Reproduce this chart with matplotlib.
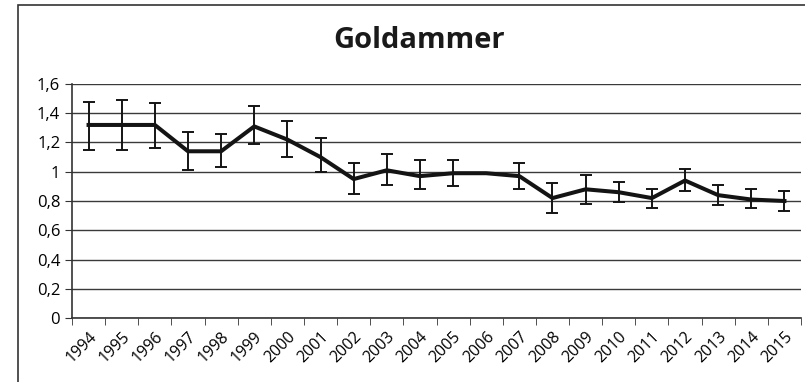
import numpy as np
import matplotlib.pyplot as plt
from matplotlib.patches import Rectangle
from matplotlib.ticker import FuncFormatter

# Daten
jahre = [str(j) for j in range(1994, 2016)]
werte = [1.32, 1.32, 1.32, 1.14, 1.14, 1.31, 1.22, 1.10, 0.95, 1.01, 0.97,
         0.99, 0.99, 0.97, 0.82, 0.88, 0.86, 0.82, 0.94, 0.84, 0.81, 0.80]
unten = [1.15, 1.15, 1.16, 1.01, 1.03, 1.19, 1.10, 1.00, 0.85, 0.91, 0.88,
         0.90, 0.99, 0.88, 0.72, 0.78, 0.79, 0.75, 0.87, 0.77, 0.75, 0.73]
oben = [1.48, 1.49, 1.47, 1.27, 1.26, 1.45, 1.35, 1.23, 1.06, 1.12, 1.08,
        1.08, 0.99, 1.06, 0.92, 0.98, 0.93, 0.88, 1.02, 0.91, 0.88, 0.87]
titel = "Goldammer"

plt.rcParams['font.family'] = ['Open Sans', 'DejaVu Sans']

fig = plt.figure(figsize=(8.05, 3.82), dpi=100)
fig.patches.append(Rectangle((18 / 805, -0.1), 1.2, 1 - 5 / 382 + 0.1,
                             transform=fig.transFigure, fill=False,
                             edgecolor='#333333', linewidth=1.2))
ax = fig.add_axes([72 / 805, 64 / 382, 729 / 805, 234 / 382])

x = np.arange(len(jahre))
w = np.array(werte)
fehler = [w - np.array(unten), np.array(oben) - w]
ax.errorbar(x, w, yerr=fehler, color='#141414', linewidth=2.9,
            elinewidth=1.4, capsize=4, capthick=1.4, zorder=3)

ax.set_xlim(-0.5, len(jahre) - 0.5)
ax.set_ylim(0, 1.6)
ax.set_yticks(np.arange(0, 1.61, 0.2))
ax.yaxis.set_major_formatter(FuncFormatter(
    lambda v, p: ('%g' % round(v, 1)).replace('.', ',')))
ax.grid(axis='y', color='#3a3a3a', linewidth=1.0)
ax.set_axisbelow(True)

ax.set_xticks(x)
ax.set_xticklabels(jahre, rotation=45, ha='right', rotation_mode='anchor')
ax.set_xticks(np.arange(-0.5, len(jahre)), minor=True)
ax.tick_params(axis='x', which='major', length=0, pad=8, labelsize=11.5)
ax.tick_params(axis='x', which='minor', length=5, color='#333333')
ax.tick_params(axis='y', length=5, color='#333333', labelsize=12)

for s in ['top', 'right']:
    ax.spines[s].set_visible(False)
for s in ['left', 'bottom']:
    ax.spines[s].set_color('#333333')
    ax.spines[s].set_linewidth(1.2)

fig.text(419 / 805, 1 - 40 / 382, titel, ha='center', va='center',
         fontsize=21, fontweight='bold', color='#1a1a1a')

fig.savefig('out.png', dpi=100)
